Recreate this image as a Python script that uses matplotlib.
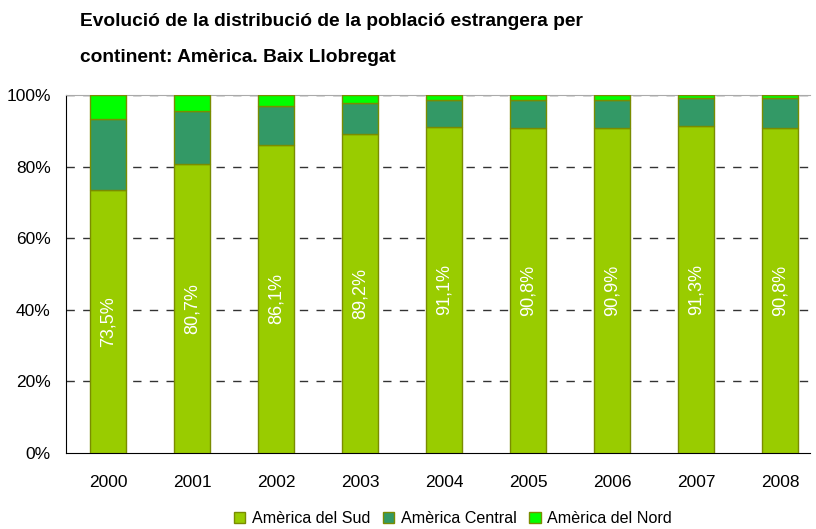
import matplotlib
matplotlib.use('Agg')
import matplotlib.pyplot as plt
import numpy as np
from matplotlib.ticker import PercentFormatter

plt.rcParams['font.family'] = ['Liberation Sans', 'DejaVu Sans']

years = ['2000', '2001', '2002', '2003', '2004', '2005', '2006', '2007', '2008']
sud = [73.5, 80.7, 86.1, 89.2, 91.1, 90.8, 90.9, 91.3, 90.8]
central = [19.8, 14.8, 10.8, 8.5, 7.5, 7.8, 7.7, 7.9, 8.4]
nord = [6.7, 4.5, 3.1, 2.3, 1.4, 1.4, 1.4, 0.8, 0.8]
series_names = ['Amèrica del Sud', 'Amèrica Central', 'Amèrica del Nord']
colors = ['#99CC00', '#339966', '#00FF00']

fig = plt.figure(figsize=(8.16, 5.29), dpi=100)
ax = fig.add_axes([0.0809, 0.1437, 0.912, 0.6767])

x = np.arange(len(years))
w = 0.43
bottom = np.zeros(len(years))
bars = []
for vals, name, c in zip([sud, central, nord], series_names, colors):
    b = ax.bar(x, vals, w, bottom=bottom, color=c, edgecolor='#7A8C00',
               linewidth=1.0, label=name, zorder=3)
    bars.append(b)
    bottom = bottom + np.array(vals)

# etiquetes dins les barres de Sud-Amèrica
for xi, v in zip(x, sud):
    ax.text(xi, v / 2, f'{v:.1f}%'.replace('.', ','), rotation=90,
            ha='center', va='center', color='white', fontsize=13, zorder=4)

ax.set_xlim(-0.5, 8.36)
ax.set_ylim(0, 100)
ax.set_xticks(x)
ax.set_xticklabels(years, fontsize=12.5)
ax.set_yticks(np.arange(0, 101, 20))
ax.yaxis.set_major_formatter(PercentFormatter(decimals=0))
ax.tick_params(axis='y', labelsize=12.5, length=0, pad=11)
ax.tick_params(axis='x', length=0, pad=16)

for yv in [20, 40, 60, 80, 100]:
    ax.axhline(yv, color='#333333', linestyle=(0, (6, 6)), linewidth=1.0, zorder=1)

ax.spines['right'].set_visible(False)
ax.spines['top'].set_color('#aaaaaa')
ax.spines['left'].set_color('black')
ax.spines['bottom'].set_color('black')

# títol en dues línies
fig.text(0.098, 1 - 22 / 529, 'Evolució de la distribució de la població estrangera per',
         fontsize=13.8, fontweight='bold', ha='left', va='center')
fig.text(0.098, 1 - 57 / 529, 'continent: Amèrica. Baix Llobregat',
         fontsize=13.8, fontweight='bold', ha='left', va='center')

ax.legend(handles=bars, loc='lower center', bbox_to_anchor=(0.52, -0.245), ncol=3,
          frameon=False, fontsize=11.6, handlelength=0.7, handleheight=0.7,
          handletextpad=0.4, columnspacing=0.8)

fig.savefig('out.png', dpi=100)
